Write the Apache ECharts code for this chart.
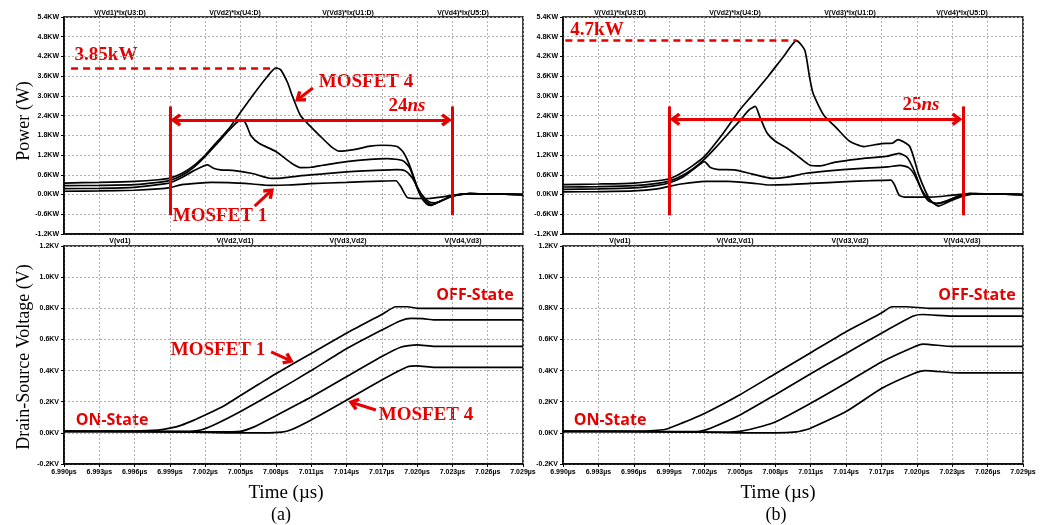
<!DOCTYPE html>
<html>
<head>
<meta charset="utf-8">
<script src="https://cdn.jsdelivr.net/npm/echarts@6/dist/echarts.min.js"></script>
<style>html,body{margin:0;padding:0;background:#fff}#main{width:1047px;height:525px}</style>
</head>
<body>
<div id="main"></div>
<script>
// time axis in ns (6.990us .. 7.029us)
var tMin = 6990, tMax = 7029, tStep = 3;

// (a) power, kW  [t(ns), P]
var powA1 = [[6990,0.10],[6993,0.11],[6996,0.13],[6998,0.17],[6999,0.21],[7000,0.30],[7001.5,0.35],[7002.5,0.37],[7004,0.36],[7006,0.32],[7007.5,0.28],[7009,0.29],[7011,0.33],[7014,0.37],[7017,0.41],[7018.2,0.42],[7018.6,0.25],[7019.2,-0.1],[7020,-0.12],[7021,-0.12],[7022,-0.08],[7023,-0.02],[7024.5,0.03],[7026,0.02],[7029,0.0]];
var powA2 = [[6990,0.18],[6993,0.19],[6996,0.22],[6998,0.30],[6999,0.36],[7000,0.52],[7001,0.72],[7002.2,0.90],[7002.7,0.80],[7003.3,0.75],[7004.5,0.73],[7006,0.64],[7007.6,0.49],[7008.5,0.50],[7010,0.57],[7012,0.63],[7014,0.69],[7016,0.73],[7018.3,0.76],[7019,0.72],[7019.6,0.50],[7020.3,0.05],[7021,-0.22],[7021.5,-0.25],[7022.5,-0.12],[7023,-0.04],[7024.5,0.03],[7026,0.02],[7029,0.0]];
var powA3 = [[6990,0.27],[6993,0.28],[6996,0.30],[6998,0.37],[6999,0.43],[7000,0.58],[7001,0.82],[7002,1.16],[7003,1.55],[7004,1.95],[7004.7,2.2],[7005.2,2.27],[7005.5,2.12],[7005.9,1.78],[7006.6,1.55],[7008,1.31],[7009.3,0.96],[7010.1,0.82],[7011,0.83],[7012,0.89],[7014,1.0],[7016,1.07],[7017.5,1.09],[7018.8,1.03],[7019.4,0.8],[7020,0.2],[7020.5,-0.12],[7021.2,-0.3],[7022,-0.2],[7023,-0.05],[7024.5,0.03],[7026,0.02],[7029,0.0]];
var powA4 = [[6990,0.35],[6993,0.37],[6996,0.40],[6998,0.45],[6999,0.50],[7000,0.64],[7001,0.87],[7002,1.2],[7003,1.6],[7004,2.0],[7004.8,2.4],[7006,3.0],[7007.3,3.6],[7008,3.85],[7008.4,3.8],[7009,3.4],[7009.4,3.0],[7010.1,2.4],[7011,2.05],[7011.7,1.8],[7012.7,1.46],[7013.4,1.32],[7014.5,1.36],[7016,1.47],[7017,1.5],[7018.3,1.46],[7018.8,1.3],[7019.3,0.95],[7019.8,0.45],[7020.3,-0.05],[7020.8,-0.28],[7021.2,-0.33],[7022,-0.2],[7023,-0.04],[7024.5,0.03],[7026,0.02],[7029,0.0]];

// (b) power, kW
var powB1 = [[6990,0.08],[6993,0.09],[6996,0.11],[6998,0.17],[6999,0.25],[7000,0.32],[7002,0.40],[7004,0.40],[7006,0.35],[7007.5,0.29],[7009,0.30],[7011,0.34],[7014,0.39],[7016,0.42],[7017.8,0.44],[7018.1,0.30],[7018.5,-0.02],[7019,-0.08],[7021,-0.08],[7022,-0.06],[7023,-0.02],[7024.5,0.03],[7026,0.02],[7029,0.0]];
var powB2 = [[6990,0.16],[6993,0.17],[6996,0.20],[6998,0.28],[6999,0.35],[7000,0.50],[7001,0.75],[7002,1.0],[7002.5,0.82],[7003.2,0.76],[7004.5,0.75],[7006,0.63],[7007.8,0.49],[7009,0.53],[7010.5,0.64],[7012.5,0.72],[7015,0.79],[7017.5,0.84],[7018.6,0.89],[7019.3,0.82],[7019.8,0.6],[7020.4,0.15],[7020.9,-0.1],[7021.6,-0.28],[7022.5,-0.2],[7023.5,-0.05],[7024.5,0.03],[7026,0.02],[7029,0.0]];
var powB3 = [[6990,0.23],[6993,0.24],[6996,0.27],[6998,0.34],[6999,0.41],[7000,0.56],[7001,0.78],[7002,1.08],[7003,1.45],[7004,1.85],[7005,2.25],[7005.8,2.58],[7006.3,2.68],[7006.7,2.35],[7007.3,1.87],[7008,1.62],[7009,1.41],[7010.1,1.11],[7010.9,0.9],[7011.8,0.87],[7013,0.98],[7015,1.08],[7017.4,1.16],[7018.5,1.25],[7019.2,1.12],[7019.8,0.7],[7020.5,0.05],[7021,-0.2],[7021.7,-0.27],[7022.5,-0.2],[7023.5,-0.05],[7024.5,0.03],[7026,0.02],[7029,0.0]];
var powB4 = [[6990,0.30],[6993,0.32],[6996,0.35],[6998,0.42],[6999,0.48],[7000,0.65],[7001,0.88],[7002,1.16],[7003.6,1.87],[7005,2.58],[7006,3.0],[7007.4,3.6],[7008.7,4.2],[7009.8,4.68],[7010.5,4.39],[7010.9,3.58],[7011.2,3.08],[7012.1,2.42],[7013.2,2.02],[7014.3,1.62],[7015.5,1.46],[7017,1.55],[7017.9,1.56],[7018.4,1.67],[7019.4,1.46],[7020.2,0.56],[7021.1,-0.15],[7021.8,-0.35],[7022.8,-0.2],[7023.9,-0.05],[7025,0.03],[7026.5,0.02],[7029,0.0]];

// (a) drain-source voltage, kV
var volA1 = [[6990,0.01],[6996,0.012],[6998,0.018],[6999,0.03],[7000,0.05],[7001,0.08],[7002,0.115],[7003.5,0.17],[7005,0.24],[7006.5,0.31],[7008,0.38],[7011,0.51],[7014,0.64],[7017,0.76],[7018.2,0.81],[7019.2,0.81],[7020,0.80],[7021,0.80],[7029,0.80]];
var volA2 = [[6990,0.01],[6999,0.01],[7001,0.012],[7001.7,0.02],[7003,0.06],[7005,0.137],[7008,0.265],[7011,0.40],[7014,0.54],[7017,0.66],[7018.6,0.72],[7019.5,0.735],[7020.5,0.733],[7021.5,0.725],[7029,0.725]];
var volA3 = [[6990,0.01],[7003,0.006],[7005,0.01],[7006.2,0.04],[7008,0.11],[7011,0.23],[7014,0.36],[7017,0.49],[7018.6,0.55],[7020,0.565],[7021.5,0.555],[7029,0.555]];
var volA4 = [[6990,0.01],[7001,0.005],[7004,0.0],[7007,0.0],[7008.5,0.005],[7009.3,0.02],[7011,0.083],[7014,0.21],[7017,0.34],[7019.2,0.425],[7020,0.43],[7021.5,0.42],[7029,0.42]];

// (b) drain-source voltage, kV
var volB1 = [[6990,0.01],[6997,0.012],[6998.5,0.02],[6999,0.03],[7000,0.06],[7002,0.125],[7005,0.245],[7008,0.38],[7011,0.515],[7014,0.65],[7017,0.77],[7017.9,0.81],[7019.1,0.81],[7021,0.80],[7029,0.80]];
var volB2 = [[6990,0.01],[7001,0.008],[7001.7,0.012],[7002.5,0.03],[7005,0.115],[7008,0.245],[7011,0.38],[7014,0.51],[7017,0.64],[7019.7,0.75],[7020.5,0.76],[7023,0.75],[7029,0.75]];
var volB3 = [[6990,0.01],[7004,0.005],[7005,0.01],[7006,0.025],[7008,0.07],[7011,0.19],[7014,0.32],[7017,0.455],[7019.7,0.55],[7020.5,0.57],[7023,0.555],[7029,0.555]];
var volB4 = [[6990,0.01],[7002,0.004],[7005,0.0],[7008,0.0],[7009.8,0.006],[7010.6,0.02],[7011,0.03],[7014,0.137],[7017,0.285],[7019.7,0.38],[7020.7,0.40],[7023.5,0.385],[7029,0.385]];

// trace names printed above each plot
var powNames = ['V(Vd1)*Ix(U3:D)', 'V(Vd2)*Ix(U4:D)', 'V(Vd3)*Ix(U1:D)', 'V(Vd4)*Ix(U5:D)'];
var volNames = ['V(vd1)', 'V(Vd2,Vd1)', 'V(Vd3,Vd2)', 'V(Vd4,Vd3)'];

var RED = '#e60000';
var SERIF = 'Liberation Serif';
var SANS = 'Liberation Sans';
// open chevron arrow head, pointing up (markLine rotates it)
var CHEVRON = 'path://M5,0 L10,6.2 L8,7.8 L5,4 L2,7.8 L0,6.2 Z';

var chart = echarts.init(document.getElementById('main'));

function fmtNum(v, unit) {
    if (Math.abs(v) < 1e-9) v = 0;
    return v.toFixed(1) + unit;
}

function xAxisCfg(idx, labels) {
    return {
        type: 'value', gridIndex: idx, min: tMin, max: tMax, interval: tStep,
        axisLine: {show: true, onZero: false, lineStyle: {color: '#000', width: 1.5}},
        axisTick: {show: labels, length: 3, lineStyle: {color: '#000'}},
        axisLabel: {
            show: labels, margin: 5, fontSize: 7, fontWeight: 'bold', fontFamily: SANS, color: '#000',
            formatter: function (v) { return (v / 1000).toFixed(3) + 'µs'; }
        },
        splitLine: {show: true, lineStyle: {color: '#b0b0b0', type: [2, 2], width: 1}}
    };
}

function yAxisCfg(idx, min, max, step, unit) {
    return {
        type: 'value', gridIndex: idx, min: min, max: max, interval: step,
        axisLine: {show: true, onZero: false, lineStyle: {color: '#000', width: 1.5}},
        axisTick: {show: true, length: 3, lineStyle: {color: '#000'}},
        axisLabel: {
            margin: 5, fontSize: 7, fontWeight: 'bold', fontFamily: SANS, color: '#000',
            formatter: function (v) { return fmtNum(v, unit); }
        },
        splitLine: {show: true, lineStyle: {color: '#b0b0b0', type: [2, 2], width: 1}}
    };
}

function curve(data, idx, marks) {
    var s = {
        type: 'line', data: data, xAxisIndex: idx, yAxisIndex: idx,
        symbol: 'none', smooth: 0.2, silent: true,
        lineStyle: {color: '#000', width: 1.7}
    };
    if (marks) {
        s.markLine = {
            silent: true, symbol: ['none', 'none'], symbolSize: [13, 11],
            label: {show: false}, emphasis: {disabled: true},
            lineStyle: {color: RED, type: 'solid', width: 3},
            data: marks
        };
    }
    return s;
}

function seg(x1, y1, x2, y2, s1, s2, style) {
    var a = {coord: [x1, y1], symbol: s1 || 'none'};
    if (style) a.lineStyle = style;
    return [a, {coord: [x2, y2], symbol: s2 || 'none'}];
}

var dash = {color: RED, type: [7, 5], width: 2.5};

var marksA = [
    seg(6990.6, 3.85, 7008, 3.85, null, null, dash),
    seg(6999, 2.68, 6999, -0.63),
    seg(7023, 2.68, 7023, -0.63),
    seg(6999.5, 2.27, 7022.5, 2.27, CHEVRON, CHEVRON),
    seg(7011.15, 3.24, 7010.0, 2.93, null, CHEVRON),
    seg(7006.2, -0.35, 7007.5, 0.08, null, CHEVRON)
];
var marksB = [
    seg(6990.2, 4.7, 7009.8, 4.7, null, null, dash),
    seg(6999, 2.68, 6999, -0.63),
    seg(7023.9, 2.68, 7023.9, -0.63),
    seg(6999.5, 2.29, 7023.4, 2.29, CHEVRON, CHEVRON)
];
var marksVA = [
    seg(7007.6, 0.52, 7009.1, 0.468, null, CHEVRON),
    seg(7016.5, 0.147, 7014.6, 0.192, null, CHEVRON)
];

function txt(x, y, text, size, family) {
    return {type: 'text', x: x, y: y, silent: true, style: {
        text: text, fill: RED, font: 'bold ' + size + 'px "' + family + '"',
        textAlign: 'center', textVerticalAlign: 'middle'}};
}

function nsTxt(x, y, num) {
    return {type: 'text', x: x, y: y, silent: true, style: {
        text: '{n|' + num + '}{u|ns}', textAlign: 'center', textVerticalAlign: 'middle',
        rich: {n: {fill: RED, fontSize: 19, fontWeight: 'bold', fontFamily: SERIF},
               u: {fill: RED, fontSize: 19, fontWeight: 'bold', fontStyle: 'italic', fontFamily: SERIF}}}};
}

function plain(x, y, text, size, family, weight, rot) {
    return {
        type: 'text', x: x, y: y, rotation: rot || 0, silent: true,
        style: {text: text, fill: '#000', font: (weight || 'normal') + ' ' + size + 'px "' + family + '"',
            textAlign: 'center', textVerticalAlign: 'middle'}
    };
}

var graphics = [];
var headX = [[120, 235, 348, 463], [620, 735, 850, 962]];
[0, 1].forEach(function (p) {
    for (var i = 0; i < 4; i++) {
        graphics.push(plain(headX[p][i], 13, powNames[i], 7, SANS, 'bold'));
        graphics.push(plain(headX[p][i], 241, volNames[i], 7, SANS, 'bold'));
    }
});
graphics.push(
    txt(106, 55, '3.85kW', 19, SERIF),
    txt(366, 82, 'MOSFET 4', 19, SERIF),
    nsTxt(407, 106, '24'),
    txt(220, 216, 'MOSFET 1', 19, SERIF),
    txt(597, 30, '4.7kW', 19, SERIF),
    nsTxt(921, 105, '25'),
    txt(218, 350, 'MOSFET 1', 19, SERIF),
    txt(426, 415, 'MOSFET 4', 19, SERIF),
    txt(112, 420, 'ON-State', 16, 'Open Sans'),
    txt(610, 420, 'ON-State', 16, 'Open Sans'),
    txt(475, 295, 'OFF-State', 16, 'Open Sans'),
    txt(977, 295, 'OFF-State', 16, 'Open Sans'),
    plain(24, 121, 'Power (W)', 18, SERIF, 'normal', Math.PI / 2),
    plain(24, 357, 'Drain-Source Voltage (V)', 18, SERIF, 'normal', Math.PI / 2),
    plain(286, 493, 'Time (µs)', 19, SERIF),
    plain(778, 493, 'Time (µs)', 19, SERIF),
    plain(281, 515, '(a)', 18, SERIF),
    plain(776, 515, '(b)', 18, SERIF)
);

var gridBox = {show: true, borderColor: '#000', borderWidth: 1.5, backgroundColor: 'transparent'};

var option = {
    animation: false,
    backgroundColor: '#fff',
    grid: [
        Object.assign({left: 64, top: 17, width: 459, height: 217}, gridBox),
        Object.assign({left: 64, top: 246, width: 459, height: 218}, gridBox),
        Object.assign({left: 563, top: 17, width: 460, height: 217}, gridBox),
        Object.assign({left: 563, top: 246, width: 460, height: 218}, gridBox)
    ],
    xAxis: [xAxisCfg(0, false), xAxisCfg(1, true), xAxisCfg(2, false), xAxisCfg(3, true)],
    yAxis: [
        yAxisCfg(0, -1.2, 5.4, 0.6, 'KW'),
        yAxisCfg(1, -0.2, 1.2, 0.2, 'KV'),
        yAxisCfg(2, -1.2, 5.4, 0.6, 'KW'),
        yAxisCfg(3, -0.2, 1.2, 0.2, 'KV')
    ],
    series: [
        curve(powA1, 0, marksA), curve(powA2, 0), curve(powA3, 0), curve(powA4, 0),
        curve(volA1, 1, marksVA), curve(volA2, 1), curve(volA3, 1), curve(volA4, 1),
        curve(powB1, 2, marksB), curve(powB2, 2), curve(powB3, 2), curve(powB4, 2),
        curve(volB1, 3), curve(volB2, 3), curve(volB3, 3), curve(volB4, 3)
    ],
    graphic: graphics
};

chart.setOption(option);
</script>
</body>
</html>
